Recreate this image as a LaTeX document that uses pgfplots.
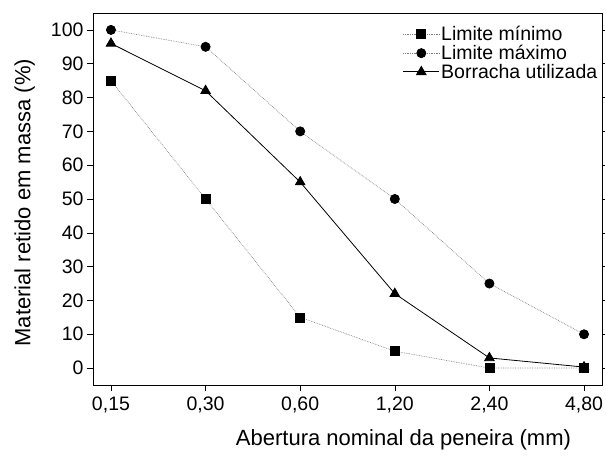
\documentclass[border=0pt]{standalone}
\usepackage{fontspec}
\setmainfont{Liberation Sans}
\usepackage{pgfplots}
\pgfplotsset{compat=1.18}
\usetikzlibrary{calc}

\begin{document}
\begin{tikzpicture}
\begin{axis}[
  scale only axis,
  width=509pt, height=372pt,
  xmin=-0.19, xmax=5.19,
  ymin=-5, ymax=105,
  xtick={0,1,2,3,4,5},
  xticklabels={{0,15},{0,30},{0,60},{1,20},{2,40},{4,80}},
  ytick={0,10,...,100},
  tick align=outside,
  xtick pos=bottom, ytick pos=left,
  major tick length=6pt,
  tick style={black, line width=0.6pt},
  axis line style={line width=0.8pt},
  /pgf/number format/assume math mode=true,
  ticklabel style={font=\fontsize{19.5}{22}\selectfont},
  xticklabel style={yshift=-2pt},
  xlabel={Abertura nominal da peneira (mm)},
  ylabel={Material retido em massa (\%)},
  label style={font=\fontsize{22}{24}\selectfont},
  xlabel style={at={(axis description cs:0.61,-0.148)}, anchor=center},
  ylabel style={at={(axis description cs:-0.134,0.49)}, anchor=center},
  clip=false,
  legend style={draw=none, fill=none, at={(axis description cs:1.0,0.974)}, anchor=north east,
    font=\fontsize{19.5}{21}\selectfont, row sep=0pt,
    nodes={inner sep=1.5pt}},
  legend cell align=left,
  legend image code/.code={
    \draw[mark repeat=2, mark phase=2] plot coordinates {(0pt,0pt) (18pt,0pt) (36pt,0pt)};
  },
]
\coordinate (sw) at (rel axis cs:0,0);
\coordinate (ne) at (rel axis cs:1,1);
\addplot[gray, densely dotted, line width=0.7pt, mark=square*,
  mark options={solid, black, fill=black}, mark size=4.5pt]
  coordinates {(0,85) (1,50) (2,15) (3,5) (4,0) (5,0)};
\addplot[gray, densely dotted, line width=0.7pt, mark=*,
  mark options={solid, black, fill=black}, mark size=4.6pt]
  coordinates {(0,100) (1,95) (2,70) (3,50) (4,25) (5,10)};
\addplot[black, solid, line width=0.8pt, mark=triangle*,
  mark options={solid, black, fill=black}, mark size=5.5pt]
  coordinates {(0,96) (1,82) (2,55) (3,22) (4,3) (5,0.3)};
\legend{Limite mínimo, Limite máximo, Borracha utilizada}
\end{axis}
% short outward ticks on the right side
\begin{axis}[
  scale only axis,
  width=509pt, height=372pt,
  xmin=-0.19, xmax=5.19,
  ymin=-5, ymax=105,
  hide x axis,
  axis y line*=right,
  ytick={0,10,...,100},
  yticklabels={},
  tick align=outside,
  major tick length=2.5pt,
  tick style={black, line width=0.6pt},
  axis line style={line width=0.8pt, -},
]
\end{axis}
\pgfresetboundingbox
\path[use as bounding box] ($(sw)+(-93pt,-74pt)$) rectangle ($(ne)+(4pt,13pt)$);
\end{tikzpicture}
\end{document}
